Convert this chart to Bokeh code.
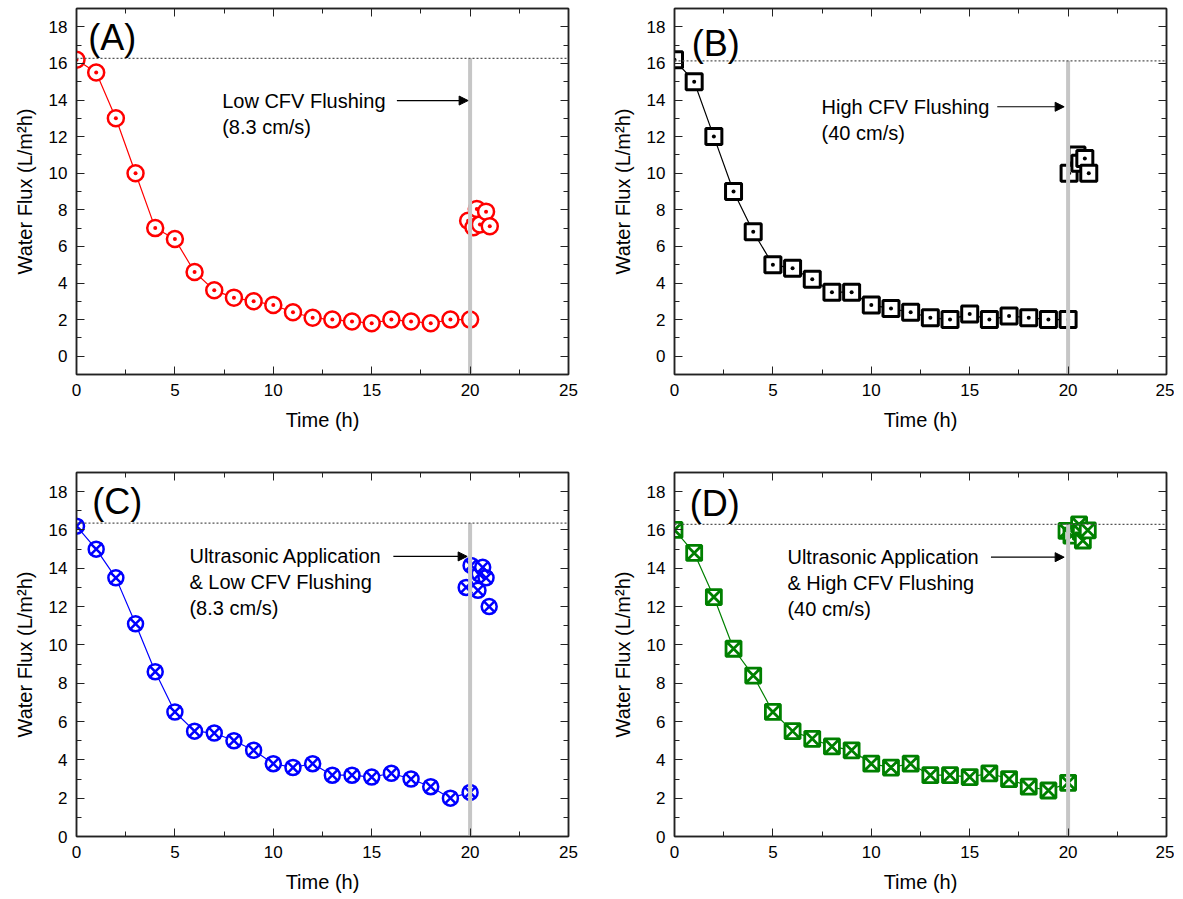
from bokeh.plotting import figure
from bokeh.layouts import column, row
from bokeh.models import (Span, Arrow, NormalHead, Label, LinearAxis, SingleIntervalTicker,
                          Range1d, CustomJSTickFormatter)
from bokeh.core.properties import value
from bokeh.embed import file_html
from bokeh.resources import INLINE

FONT = "Liberation Sans"

# ---------------- data ----------------
time_h = list(range(21))

flux_a = [16.2, 15.5, 13.0, 10.0, 7.0, 6.4, 4.6, 3.6, 3.2, 3.0, 2.8, 2.4, 2.1, 2.0, 1.9, 1.8, 2.0, 1.9, 1.8, 2.0, 2.0]
flux_b = [16.2, 15.0, 12.0, 9.0, 6.8, 5.0, 4.8, 4.2, 3.5, 3.5, 2.8, 2.6, 2.4, 2.1, 2.0, 2.3, 2.0, 2.2, 2.1, 2.0, 2.0]
flux_c = [16.2, 15.0, 13.5, 11.1, 8.6, 6.5, 5.5, 5.4, 5.0, 4.5, 3.8, 3.6, 3.8, 3.2, 3.2, 3.1, 3.3, 3.0, 2.6, 2.0, 2.3]
flux_d = [16.0, 14.8, 12.5, 9.8, 8.4, 6.5, 5.5, 5.1, 4.7, 4.5, 3.8, 3.6, 3.8, 3.2, 3.2, 3.1, 3.3, 3.0, 2.6, 2.4, 2.8]

# recovered flux after cleaning
rec_time_a = [19.9, 20.17, 20.34, 20.5, 20.81, 21.0]
rec_flux_a = [7.4, 7.05, 8.05, 7.2, 7.9, 7.1]
rec_time_b = [20.05, 20.45, 20.6, 20.85, 21.05]
rec_flux_b = [10.0, 11.0, 10.55, 10.8, 10.0]
rec_time_c = [19.8, 20.05, 20.4, 20.47, 20.64, 20.81, 20.97]
rec_flux_c = [13.0, 14.15, 12.85, 13.7, 14.05, 13.5, 12.0]
rec_time_d = [19.92, 20.17, 20.56, 20.65, 20.75, 21.0]
rec_flux_d = [15.95, 15.7, 16.29, 15.9, 15.45, 15.98]

# initial (pure water) flux reference and flushing time
initial_flux = {"A": 16.28, "B": 16.14, "C": 16.36, "D": 16.29}
flush_time = 20

x_ticks_interval = 5
y_ticks_interval = 2


def style_axis(ax, hide_labels=False):
    ax.axis_line_color = "#222222"
    ax.axis_line_width = 1.5
    ax.major_tick_in = 8
    ax.major_tick_out = 0
    ax.minor_tick_in = 5
    ax.minor_tick_out = 0
    ax.major_tick_line_color = "#222222"
    ax.minor_tick_line_color = "#222222"
    ax.major_tick_line_width = 1
    ax.minor_tick_line_width = 1
    if hide_labels:
        ax.formatter = CustomJSTickFormatter(code="return ''")
        ax.major_label_text_font_size = "1px"
        ax.major_label_standoff = 0
    else:
        ax.major_label_text_font = FONT
        ax.major_label_text_font_size = "17px"
        ax.major_label_text_color = "black"
        ax.major_label_standoff = 9
        ax.axis_label_text_font = FONT
        ax.axis_label_text_font_size = "20px"
        ax.axis_label_text_font_style = "normal"
        ax.axis_label_text_color = "black"
        ax.axis_label_standoff = 10


def make_panel(tag, t, f, rt, rf, color, marker, msize, mlw, ymin, lines, tx, ty,
               ax0, ax1, ay, lx, ly, width, height, left, right, top, bottom, overlay=None):
    p = figure(width=width, height=height,
               x_range=Range1d(0, 25), y_range=Range1d(ymin, 19),
               output_backend="svg", toolbar_location=None,
               min_border_left=left, min_border_right=right,
               min_border_top=top, min_border_bottom=bottom)
    p.grid.visible = False
    p.outline_line_color = "#222222"
    p.outline_line_width = 1.5
    p.background_fill_color = "white"
    p.border_fill_color = "white"

    p.xaxis.ticker = SingleIntervalTicker(interval=x_ticks_interval, num_minor_ticks=2)
    p.yaxis.ticker = SingleIntervalTicker(interval=y_ticks_interval, num_minor_ticks=2)
    p.xaxis.axis_label = "Time (h)"
    p.yaxis.axis_label = "Water Flux (L/m\u00b2h)"
    for ax in p.xaxis + p.yaxis:
        style_axis(ax)

    top_ax = LinearAxis(ticker=SingleIntervalTicker(interval=x_ticks_interval, num_minor_ticks=2))
    right_ax = LinearAxis(ticker=SingleIntervalTicker(interval=y_ticks_interval, num_minor_ticks=2))
    style_axis(top_ax, True)
    style_axis(right_ax, True)
    p.add_layout(top_ax, "above")
    p.add_layout(right_ax, "right")

    p.line(t, f, line_color=color, line_width=1.2)
    for xs, ys in ((t, f), (rt, rf)):
        p.scatter(xs, ys, marker=marker, size=msize, line_color=color, fill_color="white", line_width=mlw)
        if overlay is not None:
            p.scatter(xs, ys, marker=overlay[0], size=overlay[1], line_color=color, line_width=mlw)

    base = initial_flux[tag]
    p.segment(x0=[flush_time], y0=[ymin], x1=[flush_time], y1=[base],
              line_color="#c6c6c6", line_width=4)
    p.add_layout(Span(location=base, dimension="width", line_color="#555555",
                      line_dash="2 2", line_width=1.2))
    p.add_layout(Arrow(end=NormalHead(size=9, fill_color="black", line_color="black", line_width=1),
                       x_start=ax0, y_start=ay, x_end=ax1, y_end=ay,
                       line_color="black", line_width=1.2))
    n = len(lines)
    p.text(x=[tx] * n, y=[ty] * n, text=lines, y_offset=[i * 26 for i in range(n)],
           text_font=value(FONT), text_font_size="20px", text_baseline="middle",
           text_align="left", text_color="black")
    p.add_layout(Label(x=lx, y=ly, text="(" + tag + ")", text_font=FONT,
                       text_font_size="36px", text_baseline="middle", text_color="black"))
    return p


# row 1: frame 492 x 366 ; row 2: frame 492 x 364
pA = make_panel("A", time_h, flux_a, rec_time_a, rec_flux_a, "#ff0000", "circle_dot", 16, 2.5, -1,
                ["Low CFV Flushing", "(8.3 cm/s)"], 7.4, 13.97, 16.28, 19.9, 13.97, 0.6, 17.4,
                599, 464, 76, 31, 8, 90)
pB = make_panel("B", time_h, flux_b, rec_time_b, rec_flux_b, "#000000", "square_dot", 16, 3, -1,
                ["High CFV Flushing", "(40 cm/s)"], 7.47, 13.63, 16.4, 19.8, 13.63, 0.88, 17.1,
                575, 464, 75, 8, 8, 90)
pC = make_panel("C", time_h, flux_c, rec_time_c, rec_flux_c, "#0000ff", "circle", 15, 2.5, 0,
                ["Ultrasonic Application", "& Low CFV Flushing", "(8.3 cm/s)"], 5.74, 14.62,
                16.1, 19.85, 14.62, 0.8, 17.5,
                599, 434, 76, 31, 8, 62, overlay=("x", 17))
pD = make_panel("D", time_h, flux_d, rec_time_d, rec_flux_d, "#008000", "square_x", 15, 2.8, 0,
                ["Ultrasonic Application", "& High CFV Flushing", "(40 cm/s)"], 5.74, 14.58,
                16.08, 19.8, 14.58, 0.78, 17.4,
                575, 434, 75, 8, 8, 62)

layout = column(row(pA, pB), row(pC, pD))
open("out.html", "w").write(file_html(layout, INLINE))
